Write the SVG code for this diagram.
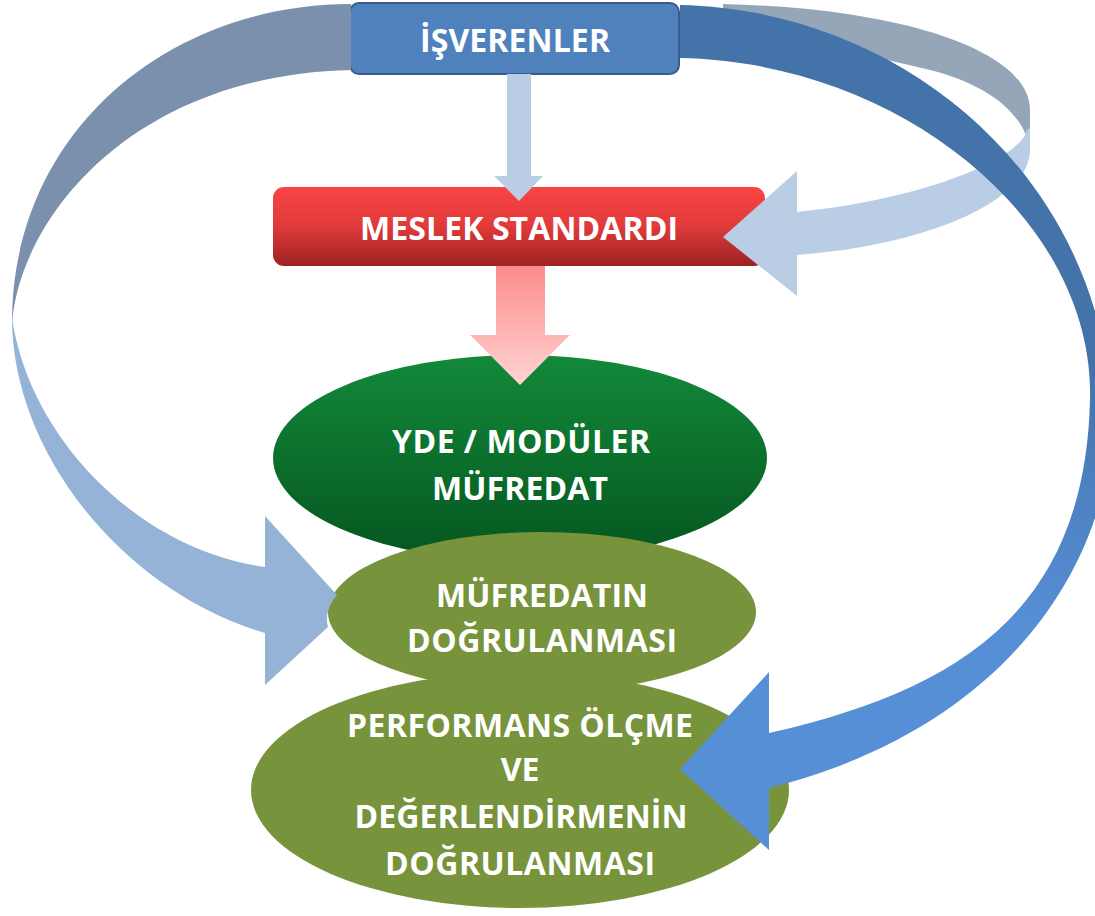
<svg xmlns="http://www.w3.org/2000/svg" width="1095" height="916" viewBox="0 0 1095 916">
<defs>
<linearGradient id="gRed" x1="0" y1="0" x2="0" y2="1">
<stop offset="0" stop-color="#fa4444"/><stop offset="0.5" stop-color="#e03a3a"/><stop offset="1" stop-color="#9c2222"/>
</linearGradient>
<linearGradient id="gGreen" x1="0" y1="0" x2="0" y2="1">
<stop offset="0" stop-color="#13893a"/><stop offset="1" stop-color="#05561f"/>
</linearGradient>
<linearGradient id="gPink" gradientUnits="userSpaceOnUse" x1="0" y1="266" x2="0" y2="385">
<stop offset="0" stop-color="#fd8b8b"/><stop offset="1" stop-color="#ffd4d4"/>
</linearGradient>
<linearGradient id="gDark" gradientUnits="userSpaceOnUse" x1="0" y1="0" x2="0" y2="916">
<stop offset="0.4" stop-color="#4473aa"/><stop offset="0.68" stop-color="#568fd6"/>
</linearGradient>
<style>
.t{font-family:"Open Sans","Noto Sans","Liberation Sans",sans-serif;font-weight:bold;font-size:32px;fill:#ffffff;text-anchor:middle}
.olive{fill:#77933c}
.lb{fill:#b9cde5}
</style>
</defs>
<rect width="1095" height="916" fill="#ffffff"/>
<g id="node-isverenler">
<rect x="350" y="3" width="329" height="71" rx="9" fill="#4f81bd" stroke="#385d8a" stroke-width="2"/>
<text class="t" x="515" y="52" textLength="190">İŞVERENLER</text>
</g>
<g id="node-meslek">
<rect x="273" y="187" width="492" height="79" rx="11" fill="url(#gRed)"/>
<text class="t" x="519" y="240" textLength="318">MESLEK STANDARDI</text>
</g>
<g id="node-yde">
<ellipse cx="520" cy="458" rx="247" ry="103" fill="url(#gGreen)"/>
<text class="t" x="521" y="453" textLength="258">YDE / MODÜLER</text>
<text class="t" x="520" y="500" textLength="176">MÜFREDAT</text>
</g>
<g id="node-performans">
<ellipse class="olive" cx="520" cy="790" rx="269" ry="118"/>
<text class="t" x="520" y="737" textLength="346">PERFORMANS ÖLÇME</text>
<text class="t" x="520" y="781">VE</text>
<text class="t" x="521" y="828" textLength="333">DEĞERLENDİRMENİN</text>
<text class="t" x="520" y="875" textLength="270">DOĞRULANMASI</text>
</g>
<g id="node-mufredatin">
<ellipse class="olive" cx="542" cy="612" rx="214" ry="80"/>
<text class="t" x="542" y="607" textLength="212">MÜFREDATIN</text>
<text class="t" x="542" y="652" textLength="270">DOĞRULANMASI</text>
</g>
<g id="connectors">
<g id="conn-left">
<path d="M351,4 C170,4 12,130 12,323 C20,220 130,75 351,70 Z" fill="#7a90ad"/>
<path d="M12,318 C12,450 120,590 265,633 L265,567 C140,550 30,440 12,318 Z" fill="#95b3d7"/>
<path d="M265,516 L337,595 A214,80 0 0 0 328,627 L265,685 Z" fill="#95b3d7"/>
</g>
<g id="conn-right-ribbon">
<path d="M723,4 C900,8 1030,50 1030,110 L1030,150 C1025,115 990,85 930,70 C850,50 780,40 723,35 Z" fill="#95a6b8"/>
<path d="M1030,128 C1030,135 1030,142 1030,150 C1030,200 930,245 797,255 L797,212 C920,200 1020,160 1027,130 Z" class="lb"/>
<polygon points="797,171 723,237 797,296" class="lb"/>
</g>
<g id="conn-down1">
<rect x="507" y="74" width="24" height="103" class="lb"/>
<polygon points="494,176 543,176 519,201" class="lb"/>
</g>
<g id="conn-down2">
<path d="M496,266 L545,266 L545,335 L570,335 L520,385 L470,335 L496,335 Z" fill="url(#gPink)"/>
</g>
<g id="conn-dark">
<path d="M680,5 C900,10 1090,170 1110,390 C1125,520 1040,720 769,788 L769,733 C960,690 1085,610 1090,400 C1095,220 900,62 680,58 Z" fill="url(#gDark)"/>
<polygon points="769,672 680,769 769,850" fill="url(#gDark)"/>
</g>
</g>
</svg>
